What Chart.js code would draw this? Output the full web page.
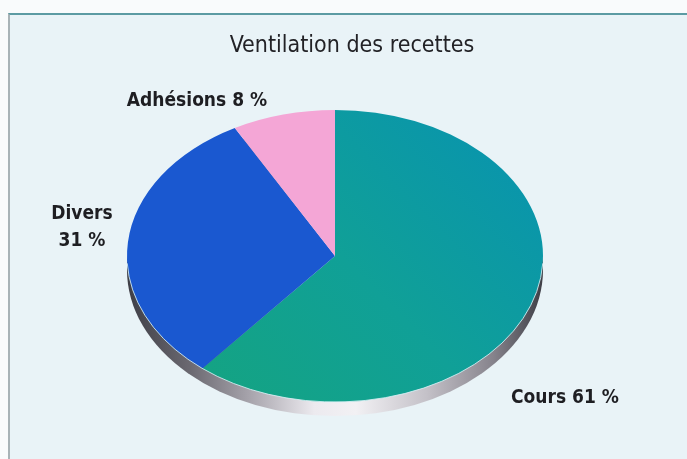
<!DOCTYPE html>
<html>
<head>
<meta charset="utf-8">
<script src="https://cdn.jsdelivr.net/npm/chart.js@4.4.0/dist/chart.umd.min.js"></script>
<style>
  html, body { margin: 0; padding: 0; background: #f9fbfc; overflow: hidden; }
  #frame { position: absolute; left: 8px; top: 13px; width: 700px; height: 470px; background: #e9f3f7; border-top: 2px solid #5c9ba3; border-left: 2px solid #a8b3b7; }
  #wrap { position: absolute; left: 0; top: 0; width: 687px; height: 459px; }
</style>
</head>
<body>
<div id="frame"></div>
<div id="wrap"><canvas id="pieChart" width="687" height="459"></canvas></div>
<script>
const titleText = 'Ventilation des recettes';
const categories = ['Cours', 'Divers', 'Adhésions'];
const shares = [61, 31, 8];
const sliceColors = ['#0f9ca0', '#1a58d0', '#f4a6d6'];

// geometry of the tilted pie (screen px)
const PIE = { cx: 335, cy: 256, rx: 208, ry: 146, depth: 14 };
// label anchors (centre of text block) and line break per slice
const labelAnchors = [
    { x: 565, y: 398, split: false },
    { x: 82, y: 227, split: true },
    { x: 197, y: 101, split: false }
];
const labelFont = 'bold 19px "DejaVu Sans Condensed", "DejaVu Sans", sans-serif';

const pieShape = {
    id: 'pieShape',
    beforeDatasetsDraw(chart) {
        const ctx = chart.ctx;
        const arc = chart.getDatasetMeta(0).data[0];
        if (!arc) return;

        // 3d rim under the face
        const g = ctx.createLinearGradient(PIE.cx - PIE.rx, 0, PIE.cx + PIE.rx, 0);
        g.addColorStop(0, '#3e3e46');
        g.addColorStop(0.15, '#6a6870');
        g.addColorStop(0.3, '#a9a6ae');
        g.addColorStop(0.45, '#eceaef');
        g.addColorStop(0.55, '#f2f1f4');
        g.addColorStop(0.72, '#c4c1c8');
        g.addColorStop(0.88, '#86838c');
        g.addColorStop(1, '#3e3e46');
        ctx.save();
        ctx.beginPath();
        ctx.ellipse(PIE.cx, PIE.cy + PIE.depth, PIE.rx, PIE.ry, 0, 0, Math.PI * 2);
        ctx.fillStyle = g;
        ctx.fill();
        ctx.restore();

        // squash the circular pie into the ellipse
        ctx.save();
        ctx.translate(PIE.cx, PIE.cy);
        ctx.scale(PIE.rx / arc.outerRadius, PIE.ry / arc.outerRadius);
        ctx.translate(-arc.x, -arc.y);
    },
    afterDatasetsDraw(chart) {
        const ctx = chart.ctx;
        ctx.restore();
        // thin highlight along the front edge
        ctx.save();
        ctx.beginPath();
        ctx.ellipse(PIE.cx, PIE.cy, PIE.rx, PIE.ry, 0, 0.05, Math.PI - 0.05);
        ctx.strokeStyle = 'rgba(215,240,245,0.85)';
        ctx.lineWidth = 1;
        ctx.stroke();
        ctx.restore();
    },
    afterDraw(chart) {
        const ctx = chart.ctx;
        ctx.save();
        ctx.font = labelFont;
        ctx.fillStyle = '#1e1e22';
        ctx.textAlign = 'center';
        ctx.textBaseline = 'middle';
        categories.forEach((c, i) => {
            const a = labelAnchors[i];
            const pct = shares[i] + ' %';
            if (a.split) {
                ctx.fillText(c, a.x, a.y - 13);
                ctx.fillText(pct, a.x, a.y + 14);
            } else {
                ctx.fillText(c + ' ' + pct, a.x, a.y);
            }
        });
        ctx.restore();
    }
};

function tealFill(context) {
    const chart = context.chart;
    const area = chart.chartArea;
    if (!area || context.dataIndex !== 0) return sliceColors[context.dataIndex];
    const cx = (area.left + area.right) / 2;
    const cy = (area.top + area.bottom) / 2;
    const r = Math.min(area.width, area.height) / 2;
    const g = chart.ctx.createLinearGradient(cx - r * 0.6, cy + r * 0.8, cx + r, cy - r * 0.3);
    g.addColorStop(0, '#14a384');
    g.addColorStop(0.5, '#10a097');
    g.addColorStop(1, '#0a96aa');
    return g;
}

new Chart(document.getElementById('pieChart'), {
    type: 'pie',
    data: {
        labels: categories,
        datasets: [{
            data: shares,
            backgroundColor: tealFill,
            borderWidth: 0,
            hoverOffset: 0
        }]
    },
    options: {
        responsive: false,
        animation: false,
        layout: { padding: { left: 17, right: 0, top: 0, bottom: 20 } },
        plugins: {
            legend: { display: false },
            tooltip: { enabled: false },
            title: {
                display: true,
                text: titleText,
                color: '#222226',
                font: { family: '"DejaVu Sans Condensed", "DejaVu Sans", sans-serif', size: 23, weight: 'normal' },
                padding: { top: 32, bottom: 10 }
            }
        }
    },
    plugins: [pieShape]
});
</script>
</body>
</html>
